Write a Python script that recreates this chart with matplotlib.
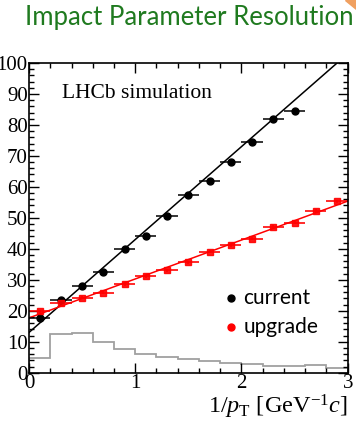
import matplotlib.pyplot as plt
from matplotlib.ticker import MultipleLocator
from matplotlib.patches import Polygon

plt.rcParams['font.family'] = 'Liberation Serif'
plt.rcParams['mathtext.fontset'] = 'custom'
plt.rcParams['mathtext.rm'] = 'Liberation Serif'
plt.rcParams['mathtext.it'] = 'Liberation Serif:italic'

# bin centres in 1/pT
x_bins = [0.1, 0.3, 0.5, 0.7, 0.9, 1.1, 1.3, 1.5, 1.7, 1.9, 2.1, 2.3, 2.5, 2.7, 2.9]

# IP resolution (um), current detector
current_x = x_bins[:13]
current_y = [17.7, 23.5, 27.9, 32.5, 40.0, 44.2, 50.6, 57.4, 61.9, 68.1, 74.5, 81.9, 84.6]

# IP resolution (um), upgrade
upgrade_x = x_bins
upgrade_y = [19.8, 22.6, 24.2, 25.8, 28.6, 31.2, 33.1, 35.6, 39.0, 41.2, 43.2, 47.2, 48.4, 52.2, 55.3]

# fitted lines (end points)
fit_x = [0.0, 3.0]
current_fit = [13.0, 103.0]
upgrade_fit = [17.7, 55.4]

# 1/pT distribution (arbitrary units), bin edges 0..3 step 0.2
hist_edges = [0.0, 0.2, 0.4, 0.6, 0.8, 1.0, 1.2, 1.4, 1.6, 1.8, 2.0, 2.2, 2.4, 2.6, 2.8, 3.0]
hist_vals = [4.7, 12.4, 12.9, 10.0, 7.7, 6.0, 5.2, 4.3, 3.8, 3.0, 2.7, 2.2, 2.2, 2.5, 1.6]

fig = plt.figure(figsize=(3.56, 4.28), dpi=100)
ax = fig.add_axes([0.0815, 0.1292, 0.8952, 0.7236])

ax.stairs(hist_vals, hist_edges, color='#a0a0a0', linewidth=1.3)

ax.plot(fit_x, current_fit, color='black', linewidth=1.1)
ax.plot(fit_x, upgrade_fit, color='red', linewidth=1.1)

ax.errorbar(current_x, current_y, xerr=0.1, yerr=0.5, fmt='o', color='black',
            markersize=5, elinewidth=1.1, capsize=0)
ax.errorbar(upgrade_x, upgrade_y, xerr=0.1, yerr=0.5, fmt='s', color='red',
            markersize=4.8, elinewidth=1.3, capsize=0, alpha=0.9)

ax.set_xlim(0, 3)
ax.set_ylim(0, 100)
ax.xaxis.set_major_locator(MultipleLocator(1))
ax.xaxis.set_minor_locator(MultipleLocator(0.2))
ax.yaxis.set_major_locator(MultipleLocator(10))
ax.yaxis.set_minor_locator(MultipleLocator(2))
ax.tick_params(which='both', direction='in', top=True, right=True, width=1.0)
ax.tick_params(which='major', length=7, labelsize=15, pad=1)
ax.tick_params(which='minor', length=3.5)
for s in ax.spines.values():
    s.set_linewidth(1.2)

ax.text(0.105, 0.9, 'LHCb simulation', transform=ax.transAxes, fontsize=15.5,
        va='center')

ax.set_xlabel(r'1/$p_{\mathrm{T}}$ [GeV$^{\mathrm{-1}}$$c$]', fontsize=17.5, loc='right', labelpad=0)

# legend
ax.plot([1.90], [24.1], 'o', color='black', markersize=5)
ax.text(2.02, 24.1, 'current', fontsize=15, family='Lato', va='center')
ax.plot([1.90], [14.8], 'o', color='red', markersize=5)
ax.text(2.02, 14.8, 'upgrade', fontsize=15, family='Lato', va='center')

fig.text(0.533, 0.958, 'Impact Parameter Resolution', color='#1f7a1f', fontsize=18.5,
         family='Lato', ha='center', va='center')

# slide corner decoration
fig.patches.append(Polygon([[0.97, 1.0], [1.0, 1.0], [1.0, 0.98]], closed=True,
                           transform=fig.transFigure, color='#f0a060'))

fig.savefig('out.png', dpi=100)
